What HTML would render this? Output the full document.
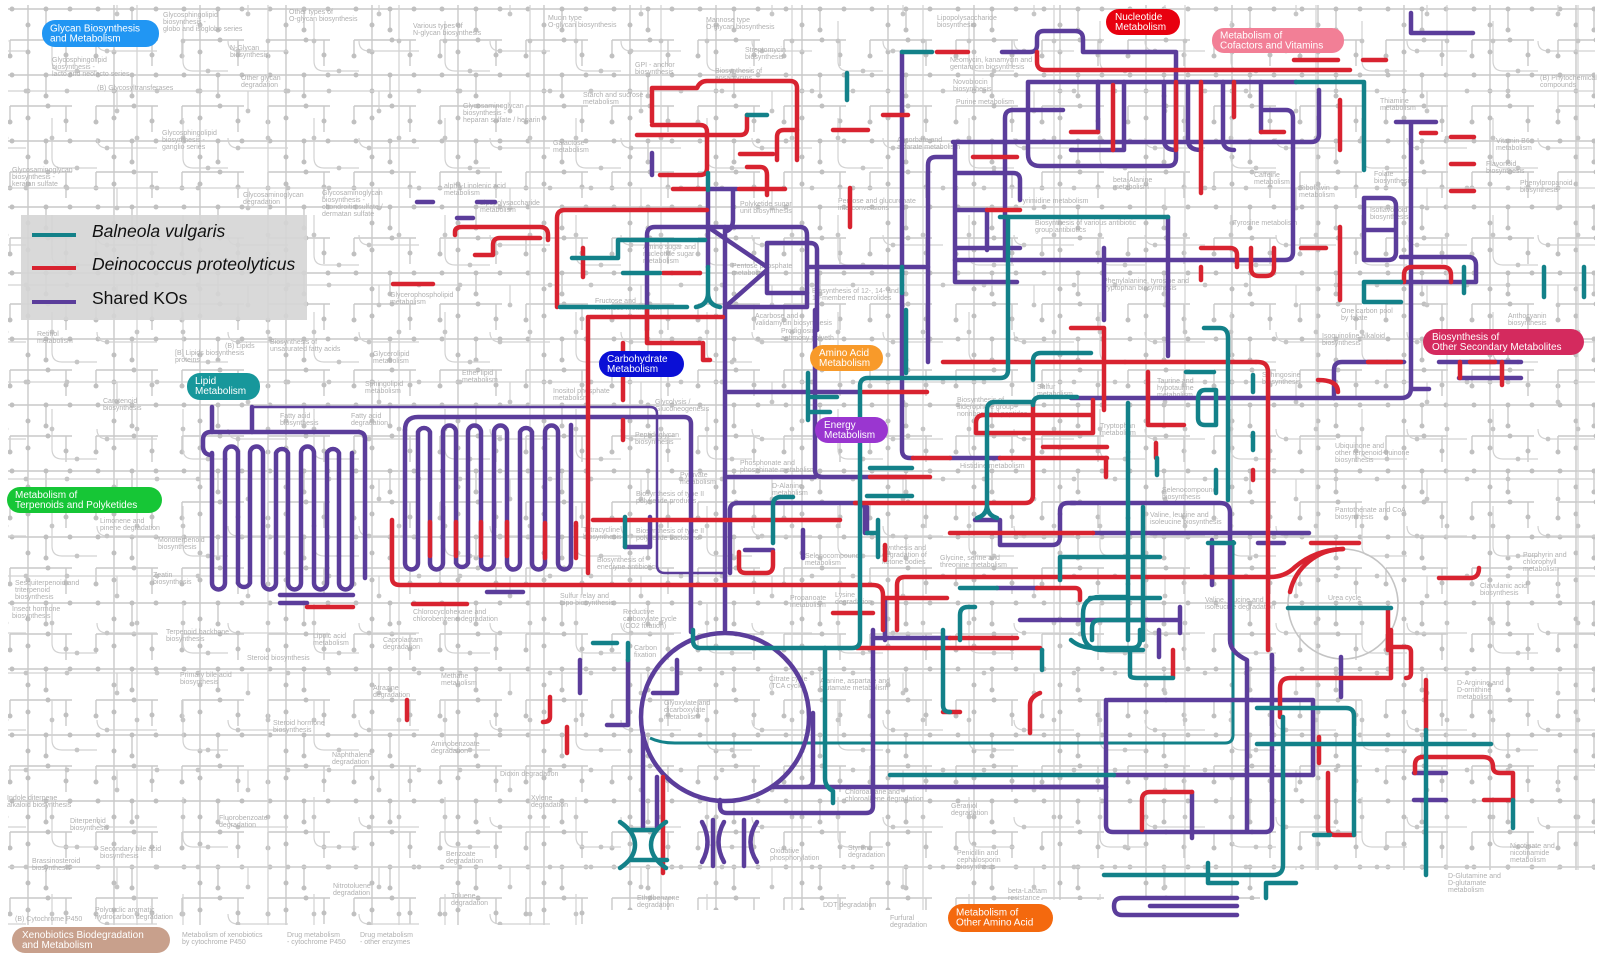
<!DOCTYPE html>
<html><head><meta charset="utf-8"><style>
html,body{margin:0;padding:0;background:#fff;}
svg{display:block;}
.c{fill:none;stroke-width:4.5;stroke-linecap:round;stroke-linejoin:round;}
.p{stroke:#5b3d9b;}
.r{stroke:#d82330;}
.t{stroke:#138189;}
.lbl{font-family:"Liberation Sans",sans-serif;font-size:7px;fill:#b0b0b0;}
.pl{font-family:"Liberation Sans",sans-serif;font-size:10px;fill:#fff;}
</style></head><body>
<svg width="1611" height="956" viewBox="0 0 1611 956" xmlns="http://www.w3.org/2000/svg">
<defs>
<pattern id="g1" width="86" height="66" patternUnits="userSpaceOnUse">
<g stroke="#c9c9c9" stroke-width="1.4" fill="none">
<path d="M0,9 H86 M28,0 V66 M46,9 V30 M10,40 H72 M66,40 V66 M10,40 V56"/>
</g>
<g fill="#c0c0c0">
<circle cx="12" cy="9" r="2.5"/><circle cx="46" cy="9" r="2.5"/><circle cx="70" cy="9" r="2.5"/>
<circle cx="28" cy="25" r="2.5"/><circle cx="46" cy="30" r="2.5"/><circle cx="28" cy="52" r="2.5"/>
<circle cx="10" cy="56" r="2.5"/><circle cx="48" cy="40" r="2.5"/><circle cx="66" cy="55" r="2.5"/>
</g>
</pattern>
<pattern id="g2" width="131" height="97" patternUnits="userSpaceOnUse" x="37" y="21">
<g stroke="#d2d2d2" stroke-width="1.2" fill="none">
<path d="M0,70 H131 M100,0 V97 M60,20 Q60,30 70,30 H120 M15,0 V40 Q15,50 25,50 H60 M80,70 V90"/>
</g>
<g fill="#c6c6c6">
<circle cx="100" cy="20" r="2.4"/><circle cx="70" cy="30" r="2.4"/><circle cx="15" cy="20" r="2.4"/>
<circle cx="40" cy="50" r="2.4"/><circle cx="30" cy="70" r="2.4"/><circle cx="80" cy="90" r="2.4"/><circle cx="120" cy="70" r="2.4"/>
</g>
</pattern>
<clipPath id="mapclip"><polygon points="8,5 1595,5 1595,870 1260,870 1260,900 1000,900 1000,910 600,910 600,925 8,925"/></clipPath>
</defs>

<g clip-path="url(#mapclip)">
<rect x="0" y="0" width="1611" height="956" fill="url(#g1)"/>
<rect x="0" y="0" width="1611" height="956" fill="url(#g2)"/>
</g>
<circle cx="1343" cy="604" r="55" fill="none" stroke="#c4c4c4" stroke-width="1.6"/>

<!-- gray labels -->
<g class="lbl">
<text x="163" y="17">Glycosphingolipid<tspan x="163" dy="7">biosynthesis -</tspan><tspan x="163" dy="7">globo and isoglobo series</tspan></text>
<text x="289" y="14">Other types of<tspan x="289" dy="7">O-glycan biosynthesis</tspan></text>
<text x="230" y="50">N-Glycan<tspan x="230" dy="7">biosynthesis</tspan></text>
<text x="52" y="62">Glycosphingolipid<tspan x="52" dy="7">biosynthesis -</tspan><tspan x="52" dy="7">lacto and neolacto series</tspan></text>
<text x="97" y="90">(B) Glycosyltransferases</text>
<text x="241" y="80">Other glycan<tspan x="241" dy="7">degradation</tspan></text>
<text x="162" y="135">Glycosphingolipid<tspan x="162" dy="7">biosynthesis -</tspan><tspan x="162" dy="7">ganglio series</tspan></text>
<text x="12" y="172">Glycosaminoglycan<tspan x="12" dy="7">biosynthesis -</tspan><tspan x="12" dy="7">keratan sulfate</tspan></text>
<text x="243" y="197">Glycosaminoglycan<tspan x="243" dy="7">degradation</tspan></text>
<text x="322" y="195">Glycosaminoglycan<tspan x="322" dy="7">biosynthesis -</tspan><tspan x="322" dy="7">chondroitin sulfate /</tspan><tspan x="322" dy="7">dermatan sulfate</tspan></text>
<text x="463" y="108">Glycosaminoglycan<tspan x="463" dy="7">biosynthesis -</tspan><tspan x="463" dy="7">heparan sulfate / heparin</tspan></text>
<text x="413" y="28">Various types of<tspan x="413" dy="7">N-glycan biosynthesis</tspan></text>
<text x="548" y="20">Mucin type<tspan x="548" dy="7">O-glycan biosynthesis</tspan></text>
<text x="706" y="22">Mannose type<tspan x="706" dy="7">O-glycan biosynthesis</tspan></text>
<text x="937" y="20">Lipopolysaccharide<tspan x="937" dy="7">biosynthesis</tspan></text>
<text x="635" y="67">GPI - anchor<tspan x="635" dy="7">biosynthesis</tspan></text>
<text x="583" y="97">Starch and sucrose<tspan x="583" dy="7">metabolism</tspan></text>
<text x="553" y="145">Galactose<tspan x="553" dy="7">metabolism</tspan></text>
<text x="444" y="188">alpha-Linolenic acid<tspan x="444" dy="7">metabolism</tspan></text>
<text x="390" y="297">Glycerophospholipid<tspan x="390" dy="7">metabolism</tspan></text>
<text x="950" y="62">Neomycin, kanamycin and<tspan x="950" dy="7">gentamicin biosynthesis</tspan></text>
<text x="953" y="84">Novobiocin<tspan x="953" dy="7">biosynthesis</tspan></text>
<text x="956" y="104">Purine metabolism</text>
<text x="897" y="142">Ascorbate and<tspan x="897" dy="7">aldarate metabolism</tspan></text>
<text x="1018" y="203">Pyrimidine metabolism</text>
<text x="1380" y="103">Thiamine<tspan x="1380" dy="7">metabolism</tspan></text>
<text x="1496" y="143">Vitamin B6<tspan x="1496" dy="7">metabolism</tspan></text>
<text x="1486" y="166">Flavonoid<tspan x="1486" dy="7">biosynthesis</tspan></text>
<text x="1520" y="185">Phenylpropanoid<tspan x="1520" dy="7">biosynthesis</tspan></text>
<text x="1254" y="177">Caffeine<tspan x="1254" dy="7">metabolism</tspan></text>
<text x="1299" y="190">Riboflavin<tspan x="1299" dy="7">metabolism</tspan></text>
<text x="1113" y="182">beta-Alanine<tspan x="1113" dy="7">metabolism</tspan></text>
<text x="1233" y="225">Tyrosine metabolism</text>
<text x="1374" y="176">Folate<tspan x="1374" dy="7">biosynthesis</tspan></text>
<text x="1370" y="212">Isoflavonoid<tspan x="1370" dy="7">biosynthesis</tspan></text>
<text x="1508" y="318">Anthocyanin<tspan x="1508" dy="7">biosynthesis</tspan></text>
<text x="1322" y="338">Isoquinoline alkaloid<tspan x="1322" dy="7">biosynthesis</tspan></text>
<text x="1341" y="313">One carbon pool<tspan x="1341" dy="7">by folate</tspan></text>
<text x="1103" y="283">Phenylalanine, tyrosine and<tspan x="1103" dy="7">tryptophan biosynthesis</tspan></text>
<text x="1035" y="225">Biosynthesis of various antibiotic<tspan x="1035" dy="7">group antibiotics</tspan></text>
<text x="1540" y="80">(B) Phytochemical<tspan x="1540" dy="7">compounds</tspan></text>
<text x="280" y="418">Fatty acid<tspan x="280" dy="7">biosynthesis</tspan></text>
<text x="351" y="418">Fatty acid<tspan x="351" dy="7">degradation</tspan></text>
<text x="37" y="336">Retinol<tspan x="37" dy="7">metabolism</tspan></text>
<text x="103" y="403">Carotenoid<tspan x="103" dy="7">biosynthesis</tspan></text>
<text x="175" y="355">[B] Lipids biosynthesis<tspan x="175" dy="7">proteins</tspan></text>
<text x="225" y="348">(B) Lipids</text>
<text x="270" y="344">Biosynthesis of<tspan x="270" dy="7">unsaturated fatty acids</tspan></text>
<text x="373" y="356">Glycerolipid<tspan x="373" dy="7">metabolism</tspan></text>
<text x="365" y="386">Sphingolipid<tspan x="365" dy="7">metabolism</tspan></text>
<text x="462" y="375">Ether lipid<tspan x="462" dy="7">metabolism</tspan></text>
<text x="100" y="523">Limonene and<tspan x="100" dy="7">pinene degradation</tspan></text>
<text x="158" y="542">Monoterpenoid<tspan x="158" dy="7">biosynthesis</tspan></text>
<text x="153" y="577">Zeatin<tspan x="153" dy="7">biosynthesis</tspan></text>
<text x="15" y="585">Sesquiterpenoid and<tspan x="15" dy="7">triterpenoid</tspan><tspan x="15" dy="7">biosynthesis</tspan></text>
<text x="12" y="611">Insect hormone<tspan x="12" dy="7">biosynthesis</tspan></text>
<text x="166" y="634">Terpenoid backbone<tspan x="166" dy="7">biosynthesis</tspan></text>
<text x="247" y="660">Steroid biosynthesis</text>
<text x="180" y="677">Primary bile acid<tspan x="180" dy="7">biosynthesis</tspan></text>
<text x="273" y="725">Steroid hormone<tspan x="273" dy="7">biosynthesis</tspan></text>
<text x="7" y="800">Indole diterpene<tspan x="7" dy="7">alkaloid biosynthesis</tspan></text>
<text x="70" y="823">Diterpenoid<tspan x="70" dy="7">biosynthesis</tspan></text>
<text x="32" y="863">Brassinosteroid<tspan x="32" dy="7">biosynthesis</tspan></text>
<text x="100" y="851">Secondary bile acid<tspan x="100" dy="7">biosynthesis</tspan></text>
<text x="95" y="912">Polycyclic aromatic<tspan x="95" dy="7">hydrocarbon degradation</tspan></text>
<text x="15" y="921">(B) Cytochrome P450</text>
<text x="182" y="937">Metabolism of xenobiotics<tspan x="182" dy="7">by cytochrome P450</tspan></text>
<text x="287" y="937">Drug metabolism<tspan x="287" dy="7">- cytochrome P450</tspan></text>
<text x="360" y="937">Drug metabolism<tspan x="360" dy="7">- other enzymes</tspan></text>
<text x="219" y="820">Fluorobenzoate<tspan x="219" dy="7">degradation</tspan></text>
<text x="332" y="757">Naphthalene<tspan x="332" dy="7">degradation</tspan></text>
<text x="431" y="746">Aminobenzoate<tspan x="431" dy="7">degradation</tspan></text>
<text x="373" y="690">Atrazine<tspan x="373" dy="7">degradation</tspan></text>
<text x="383" y="642">Caprolactam<tspan x="383" dy="7">degradation</tspan></text>
<text x="313" y="638">Lipoic acid<tspan x="313" dy="7">metabolism</tspan></text>
<text x="441" y="678">Methane<tspan x="441" dy="7">metabolism</tspan></text>
<text x="333" y="888">Nitrotoluene<tspan x="333" dy="7">degradation</tspan></text>
<text x="446" y="856">Benzoate<tspan x="446" dy="7">degradation</tspan></text>
<text x="451" y="898">Toluene<tspan x="451" dy="7">degradation</tspan></text>
<text x="531" y="800">Xylene<tspan x="531" dy="7">degradation</tspan></text>
<text x="500" y="776">Dioxin degradation</text>
<text x="413" y="614">Chlorocyclohexane and<tspan x="413" dy="7">chlorobenzene degradation</tspan></text>
<text x="637" y="900">Ethylbenzene<tspan x="637" dy="7">degradation</tspan></text>
<text x="770" y="853">Oxidative<tspan x="770" dy="7">phosphorylation</tspan></text>
<text x="848" y="850">Styrene<tspan x="848" dy="7">degradation</tspan></text>
<text x="823" y="907">DDT degradation</text>
<text x="890" y="920">Furfural<tspan x="890" dy="7">degradation</tspan></text>
<text x="664" y="705">Glyoxylate and<tspan x="664" dy="7">dicarboxylate</tspan><tspan x="664" dy="7">metabolism</tspan></text>
<text x="634" y="650">Carbon<tspan x="634" dy="7">fixation</tspan></text>
<text x="769" y="681">Citrate cycle<tspan x="769" dy="7">(TCA cycle)</tspan></text>
<text x="820" y="683">Alanine, aspartate and<tspan x="820" dy="7">glutamate metabolism</tspan></text>
<text x="845" y="794">Chloroalkane and<tspan x="845" dy="7">chloroalkene degradation</tspan></text>
<text x="957" y="855">Penicillin and<tspan x="957" dy="7">cephalosporin</tspan><tspan x="957" dy="7">biosynthesis</tspan></text>
<text x="1008" y="893">beta-Lactam<tspan x="1008" dy="7">resistance</tspan></text>
<text x="951" y="808">Geraniol<tspan x="951" dy="7">degradation</tspan></text>
<text x="1328" y="600">Urea cycle</text>
<text x="1523" y="557">Porphyrin and<tspan x="1523" dy="7">chlorophyll</tspan><tspan x="1523" dy="7">metabolism</tspan></text>
<text x="1480" y="588">Clavulanic acid<tspan x="1480" dy="7">biosynthesis</tspan></text>
<text x="1457" y="685">D-Arginine and<tspan x="1457" dy="7">D-ornithine</tspan><tspan x="1457" dy="7">metabolism</tspan></text>
<text x="1510" y="848">Nicotinate and<tspan x="1510" dy="7">nicotinamide</tspan><tspan x="1510" dy="7">metabolism</tspan></text>
<text x="1448" y="878">D-Glutamine and<tspan x="1448" dy="7">D-glutamate</tspan><tspan x="1448" dy="7">metabolism</tspan></text>
<text x="1335" y="512">Pantothenate and CoA<tspan x="1335" dy="7">biosynthesis</tspan></text>
<text x="1335" y="448">Ubiquinone and<tspan x="1335" dy="7">other terpenoid-quinone</tspan><tspan x="1335" dy="7">biosynthesis</tspan></text>
<text x="1162" y="492">Selenocompound<tspan x="1162" dy="7">biosynthesis</tspan></text>
<text x="1150" y="517">Valine, leucine and<tspan x="1150" dy="7">isoleucine biosynthesis</tspan></text>
<text x="1205" y="602">Valine, leucine and<tspan x="1205" dy="7">isoleucine degradation</tspan></text>
<text x="1157" y="383">Taurine and<tspan x="1157" dy="7">hypotaurine</tspan><tspan x="1157" dy="7">metabolism</tspan></text>
<text x="1262" y="377">Sphingosine<tspan x="1262" dy="7">biosynthesis</tspan></text>
<text x="1100" y="428">Tryptophan<tspan x="1100" dy="7">metabolism</tspan></text>
<text x="1037" y="389">Sulfur<tspan x="1037" dy="7">metabolism</tspan></text>
<text x="957" y="402">Biosynthesis of<tspan x="957" dy="7">siderophore group</tspan><tspan x="957" dy="7">nonribosomal peptides</tspan></text>
<text x="960" y="468">Histidine metabolism</text>
<text x="940" y="560">Glycine, serine and<tspan x="940" dy="7">threonine metabolism</tspan></text>
<text x="882" y="550">Synthesis and<tspan x="882" dy="7">degradation of</tspan><tspan x="882" dy="7">ketone bodies</tspan></text>
<text x="805" y="558">Selenocompound<tspan x="805" dy="7">metabolism</tspan></text>
<text x="790" y="600">Propanoate<tspan x="790" dy="7">metabolism</tspan></text>
<text x="835" y="597">Lysine<tspan x="835" dy="7">degradation</tspan></text>
<text x="772" y="488">D-Alanine<tspan x="772" dy="7">metabolism</tspan></text>
<text x="740" y="465">Phosphonate and<tspan x="740" dy="7">phosphinate metabolism</tspan></text>
<text x="680" y="477">Pyruvate<tspan x="680" dy="7">metabolism</tspan></text>
<text x="635" y="437">Peptidoglycan<tspan x="635" dy="7">biosynthesis</tspan></text>
<text x="636" y="496">Biosynthesis of type II<tspan x="636" dy="7">polyketide products</tspan></text>
<text x="636" y="533">Biosynthesis of type II<tspan x="636" dy="7">polyketide backbone</tspan></text>
<text x="597" y="562">Biosynthesis of<tspan x="597" dy="7">enediyne antibiotics</tspan></text>
<text x="583" y="532">Tetracycline<tspan x="583" dy="7">biosynthesis</tspan></text>
<text x="560" y="598">Sulfur relay and<tspan x="560" dy="7">Lipo biosynthesis</tspan></text>
<text x="623" y="614">Reductive<tspan x="623" dy="7">carboxylate cycle</tspan><tspan x="623" dy="7">(CO2 fixation)</tspan></text>
<text x="655" y="404">Glycolysis /<tspan x="655" dy="7">Gluconeogenesis</tspan></text>
<text x="553" y="393">Inositol phosphate<tspan x="553" dy="7">metabolism</tspan></text>
<text x="595" y="303">Fructose and<tspan x="595" dy="7">mannose metabolism</tspan></text>
<text x="643" y="249">Amino sugar and<tspan x="643" dy="7">nucleotide sugar</tspan><tspan x="643" dy="7">metabolism</tspan></text>
<text x="732" y="268">Pentose phosphate<tspan x="732" dy="7">metabolism</tspan></text>
<text x="812" y="293">Biosynthesis of 12-, 14- and<tspan x="812" dy="7">16-membered macrolides</tspan></text>
<text x="755" y="318">Acarbose and<tspan x="755" dy="7">validamycin biosynthesis</tspan></text>
<text x="781" y="333">Prodigiosin -<tspan x="781" dy="7">antimony polyeth</tspan></text>
<text x="740" y="206">Polyketide sugar<tspan x="740" dy="7">unit biosynthesis</tspan></text>
<text x="838" y="203">Pentose and glucuronate<tspan x="838" dy="7">interconversions</tspan></text>
<text x="745" y="52">Streptomycin<tspan x="745" dy="7">biosynthesis</tspan></text>
<text x="715" y="73">Biosynthesis of<tspan x="715" dy="7">ansamycins</tspan></text>
<text x="480" y="205">Lipopolysaccharide<tspan x="480" dy="7">metabolism</tspan></text>
</g>

<!-- legend -->
<rect x="21" y="215" width="286" height="105" fill="#d5d5d5" fill-opacity="0.9"/>
<line x1="32" y1="235" x2="76" y2="235" stroke="#138189" stroke-width="4"/>
<line x1="32" y1="268" x2="76" y2="268" stroke="#d82330" stroke-width="4"/>
<line x1="32" y1="302" x2="76" y2="302" stroke="#5b3d9b" stroke-width="4"/>
<text x="92" y="237" font-family="Liberation Sans, sans-serif" font-size="17.5" font-style="italic" fill="#111">Balneola vulgaris</text>
<text x="92" y="270" font-family="Liberation Sans, sans-serif" font-size="17.5" font-style="italic" fill="#111">Deinococcus proteolyticus</text>
<text x="92" y="304" font-family="Liberation Sans, sans-serif" font-size="17.5" fill="#111">Shared KOs</text>

<!-- thin lines -->
<path d="M252,407 H650 Q657,407 657,414 V565 Q657,573 665,573 H725" fill="none" stroke="#5b3d9b" stroke-width="2.5"/>
<path d="M650,738 Q660,743 675,743 H1225 Q1233,743 1233,735 V540" fill="none" stroke="#138189" stroke-width="3"/>

<!-- PURPLE -->
<g class="c p">
<path d="M1002,52 H1030 Q1037,52 1037,45 V38 Q1037,31 1044,31 H1075 Q1083,31 1083,39 V52 H1176 V158 Q1176,166 1168,166 H1040 Q1028,166 1028,154 V83"/>
<path d="M1028,82 H1296"/>
<path d="M1063,110 H1013 Q1005,110 1005,118 V260"/>
<path d="M953,142 H1311 Q1319,142 1319,134 V90"/>
<path d="M1098,82 V132 M1124,82 V150 H1071"/>
<path d="M1164,82 V140 Q1164,150 1176,150 M1188,82 V140 Q1188,150 1201,150 M1223,82 V140 Q1223,150 1234,150"/>
<path d="M1261,82 V132 M1261,110 H1286 Q1293,110 1293,118 V252 Q1293,260 1285,260 H955"/>
<path d="M902,52 V450 Q902,458 910,458 H913"/>
<path d="M928,362 V165 Q928,157 936,157 H953"/>
<path d="M955,145 V282 M955,173 H1013 Q1020,173 1020,180 V200 M955,210 H987 V250 M955,248 H1020 M955,282 H1017"/>
<path d="M647,330 V235 Q647,227 655,227 H800 Q807,227 807,235 V307 H725"/>
<path d="M708,227 L767,267 M725,307 L767,270 M767,243 V293 H807 M767,243 H810 Q817,243 817,250 V330 M810,267 H928"/>
<path d="M725,227 V630 M708,190 V267 M733,189 V220 Q733,228 727,231 M652,153 V175 M707,189 H737"/>
<path d="M212,407 V432 M252,407 V432"/>
<path d="M212,455 Q203,455 203,446 V440 Q203,432 211,432 H358 Q365,432 365,439 V578"/>
<path d="M212,453 V583 A6.5,6.5 0 0 0 225,583 V453 A6.5,6.5 0 0 1 238,453 V583 A6.5,6.5 0 0 0 250,583 V453 A6.5,6.5 0 0 1 263,453 V583 A6.5,6.5 0 0 0 276,583 V453 A6.5,6.5 0 0 1 288,453 V583 A6.5,6.5 0 0 0 301,583 V453 A6.5,6.5 0 0 1 314,453 V583 A6.5,6.5 0 0 0 327,583 V453 A6.5,6.5 0 0 1 339,453 V583 A6.5,6.5 0 0 0 352,583 V453"/>
<path d="M405,430 Q405,417 418,417 H684 Q691,417 691,424 V632"/>
<path d="M405,430 V563 A6.5,6.5 0 0 0 418,563 V432 A6.5,6.5 0 0 1 430,432 V563 A6.5,6.5 0 0 0 443,563 V432 A6.5,6.5 0 0 1 456,432 V563 A6.5,6.5 0 0 0 468,563 V432 A6.5,6.5 0 0 1 481,432 V563 A6.5,6.5 0 0 0 494,563 V432 A6.5,6.5 0 0 1 507,432 V563 A6.5,6.5 0 0 0 520,563 V432 A6.5,6.5 0 0 1 532,432 V563 A6.5,6.5 0 0 0 545,563 V432 A6.5,6.5 0 0 1 558,432 V563 A6.5,6.5 0 0 0 571,563 V425"/>
<path d="M280,595 H353 M280,603 H307 M487,592 H523"/>
<path d="M728,477 H815 M815,310 V470 Q815,477 823,477 H905"/>
<path d="M730,573 V510 Q730,503 738,503 H858 Q865,503 865,510 V533"/>
<path d="M728,392 H860 M803,530 V558 M745,550 H773"/>
<path d="M625,547 H650 V517"/>
<circle cx="725" cy="717" r="84"/>
<path d="M813,713 V780 Q813,787 806,787 H773 M773,787 H1106"/>
<path d="M720,800 V806 Q720,813 727,813 H866 Q873,813 873,806 V630"/>
<path d="M643,733 V827 M657,777 V827"/>
<path d="M702,822 Q713,842 702,862 M724,822 Q713,842 724,862 M713,820 V866 M757,822 Q744,842 757,862 M744,820 V866"/>
<path d="M677,660 V693 H653 M580,660 V693 M628,660 V725 H607"/>
<path d="M1108,700 H1313 V775 M1106,700 V825 Q1106,832 1113,832 H1265 Q1272,832 1272,825 V655"/>
<path d="M1114,775 H1313 M1040,787 H1106"/>
<path d="M1237,898 H1122 Q1114,898 1114,906 Q1114,915 1122,915 H1237 M1150,906 H1237"/>
<path d="M1439,362 H1521 M1459,378 H1521"/>
<path d="M1334,398 V370 Q1334,362 1342,362 H1404"/>
<path d="M1071,398 H1401 Q1411,398 1411,388 V122 M1396,122 H1436 M1411,389 H1429"/>
<path d="M1093,533 H1309 M1071,503 H1220 Q1230,503 1230,513 V640 Q1230,652 1247,660 V830"/>
<path d="M975,520 H1000 V545 H1052 Q1060,545 1060,537 V511 Q1060,503 1068,503 H1075"/>
<path d="M1168,217 V356 M1104,248 V320"/>
<path d="M1364,198 H1388 Q1396,198 1396,206 V252 Q1396,260 1388,260 H1364 Z M1364,230 H1396"/>
<path d="M1401,257 H1468 Q1476,257 1476,265 V282 M1401,282 H1476"/>
<path d="M1411,13 V33 H1473"/>
<path d="M867,507 V533"/>
<path d="M1020,620 H1180 M1180,607 V633 M873,638 H950"/>
<path d="M997,588 H1037 M885,600 V640"/>
<path d="M417,202 H433 M477,202 H495 M457,218 H473"/>
<path d="M1212,540 V585 M950,458 H1000 M1258,543 H1284"/>
<path d="M1159,630 V657 M1341,657 V697 M1414,773 H1446 M1414,800 H1446 M1192,792 V838"/>
</g>

<!-- RED -->
<g class="c r">
<path d="M1037,52 V62 Q1037,70 1045,70 H1350 M937,52 H968"/>
<path d="M652,122 V88 H697 Q700,81 707,81 H790 Q797,81 797,88 V160"/>
<path d="M637,135 H740 Q747,135 747,128 V115"/>
<path d="M652,125 H700 Q707,125 707,132 V168 Q707,175 700,175 H660"/>
<path d="M740,154 H773 M777,160 V137 Q777,130 784,130 H797"/>
<path d="M747,167 H760 Q767,167 767,175 V195 M673,189 H705 M739,189 H785"/>
<path d="M707,210 H565 Q557,210 557,218 V307"/>
<path d="M883,115 H908 M833,130 H868 M850,188 V227 M973,157 H1017 M987,210 H1020"/>
<path d="M455,235 V232 Q455,227 462,227 H540 Q548,227 548,235 V240"/>
<path d="M475,255 H493 V245 Q493,238 500,238 H540 M393,284 H433"/>
<path d="M590,317 H723 M588,317 V573"/>
<path d="M647,310 V343 H700 M703,343 V360 H710 M623,343 V400 M623,420 V440"/>
<path d="M863,392 H927 M593,520 H840"/>
<path d="M392,520 V578 Q392,585 400,585 H873 Q883,585 883,595 V630"/>
<path d="M430,522 V556 M456,522 V556 M481,522 V556 M507,522 V556 M545,523 V558 M576,523 V558"/>
<path d="M307,607 H353 M413,604 H467"/>
<path d="M943,362 H1258 Q1268,362 1268,372 V650"/>
<path d="M913,458 H950 M1000,458 H1107 M870,477 H930"/>
<path d="M855,503 H1025 Q1033,503 1033,495 V405"/>
<path d="M976,433 V423 Q976,415 984,415 H1093 M976,433 H1093 M1093,400 V433 M1043,447 H1107 M1106,458 V477"/>
<path d="M950,533 H1093"/>
<path d="M897,630 V585 Q897,577 905,577 H1270 Q1285,577 1295,567 Q1315,550 1343,549"/>
<path d="M1290,592 A55,55 0 0 1 1343,549"/>
<path d="M885,598 H947 M833,613 H873 M885,545 V560 M1037,588 H1075 Q1080,588 1080,593 V600"/>
<path d="M739,552 V567 Q739,573 746,573 H766 Q773,573 773,565 V552"/>
<path d="M1104,328 V410 M1071,328 H1104 M1148,372 V425 H1184 M1156,443 V458 M1253,470 V480"/>
<path d="M1311,543 H1359 M1318,380 Q1338,380 1338,392"/>
<path d="M1368,362 H1401 M1460,362 V378 M1502,362 V385 M1470,362 H1495"/>
<path d="M1439,578 H1470 Q1479,578 1479,568 M1388,608 V650"/>
<path d="M1280,717 V688 Q1280,678 1290,678 H1391 V630"/>
<path d="M1391,647 H1406 Q1411,647 1411,652 V673 Q1411,678 1406,678"/>
<path d="M1328,773 V828 Q1328,835 1335,835 H1354 M1426,680 V730"/>
<path d="M1415,773 V765 Q1415,757 1423,757 H1483 Q1493,757 1493,767 Q1493,773 1500,773 H1513 V800 H1484"/>
<path d="M1173,650 V677 M1142,830 V800 Q1142,792 1150,792 H1192 M1319,737 V763"/>
<path d="M857,648 H1040 M950,638 H1017 M943,712 H960 M1030,733 V705 Q1030,697 1040,693"/>
<path d="M550,697 V717 Q550,722 543,722 M567,727 V753 M663,777 V873 M407,700 V720"/>
<path d="M1294,60 H1338 M1363,60 H1386 M1340,100 V150 M1340,227 V300"/>
<path d="M1071,132 H1098 M1113,85 V150 M1176,82 V150 M1201,82 V193 M1234,82 V117 M1261,132 H1284"/>
<path d="M1201,248 H1230 Q1237,248 1237,255 V267 M1201,267 V280"/>
<path d="M1251,248 V268 Q1251,276 1259,276 H1266 Q1274,276 1274,268 V248 M1301,248 H1326"/>
<path d="M1421,133 H1436 M1451,137 H1474 M1451,164 H1474 M1451,191 H1474"/>
<path d="M1404,282 V275 Q1404,267 1412,267 H1443 Q1451,267 1451,275 V282"/>
<path d="M583,248 V277 M663,273 H700"/>
</g>

<!-- TEAL -->
<g class="c t">
<path d="M902,52 H932 M1296,82 H1364 V170 M902,267 V293 M906,310 V373"/>
<path d="M618,240 H705 M618,240 V258 H572 M623,273 H660 M560,307 H687"/>
<path d="M708,173 V190 M708,267 V293 M708,293 Q708,305 696,307 M708,293 Q708,305 720,307"/>
<path d="M747,115 H767 M847,73 V100"/>
<path d="M1000,217 H1168"/>
<path d="M1008,217 V370 Q1008,378 1000,378 H868 Q860,378 860,386 V640 Q860,648 852,648 H700 Q693,648 693,640 V630"/>
<path d="M825,648 V778 Q825,787 833,791 V803"/>
<path d="M808,373 V420 M810,397 H837 M810,412 H830 M870,468 H912 M867,496 H912"/>
<path d="M773,543 V505 Q773,497 781,497 H793 M878,520 V557 M867,533 H878"/>
<path d="M625,517 V547"/>
<path d="M987,510 V410 Q987,402 995,402 H1033 M987,505 Q987,515 977,518 M987,505 Q987,515 997,518"/>
<path d="M1033,405 Q1033,397 1041,397 H1077"/>
<path d="M1033,380 V361 Q1033,353 1041,353 H1091"/>
<path d="M960,640 V615 Q960,607 968,607 H975 M960,588 H997"/>
<path d="M1060,580 V557 H1160 M1090,598 H1160"/>
<path d="M1071,640 Q1080,648 1095,648 H1132 Q1140,648 1140,640 V630"/>
<path d="M1128,597 H1100 Q1083,597 1083,614 V630 Q1083,650 1103,650 H1143 M1143,620 H1100 Q1092,620 1092,628 V640"/>
<path d="M1204,328 H1220 Q1228,328 1228,338 V500 M1128,403 V640 M1143,507 V640 M1186,372 H1214"/>
<path d="M1216,390 H1205 Q1198,390 1198,400 V418 Q1198,425 1205,425 H1216 Z"/>
<path d="M1157,458 V475 M1253,375 V392 M1253,433 V450 M1216,470 V493 M1208,543 H1234"/>
<path d="M1288,608 H1391"/>
<path d="M1364,282 V302 H1401 M1364,282 H1401"/>
<path d="M1464,267 V293 M1544,267 V297 M1584,267 V297"/>
<path d="M1257,708 H1346 Q1354,708 1354,716 V835 M1314,835 H1330 M1257,744 H1491"/>
<path d="M1283,717 V865 Q1283,875 1273,875 H1104 M1426,730 V875 M1513,800 V828"/>
<path d="M1208,863 V883 H1237 M1266,883 H1296 M1266,883 V898 M1130,650 V675 Q1130,678 1137,678 H1173"/>
<path d="M1040,775 H1114 M890,775 H1063 M943,630 V705 Q943,712 950,712 M1042,650 V670"/>
<path d="M620,822 Q635,832 635,845 Q635,858 620,868 M666,822 Q651,832 651,845 Q651,858 666,868 M631,830 H655 M631,860 H667"/>
<path d="M593,643 H617 M628,643 V660"/>
</g>

<!-- category pills -->
<rect x="42" y="20" width="117" height="27" rx="13" fill="#2196f3"/>
<text class="pl" x="50" y="31.5">Glycan Biosynthesis<tspan x="50" dy="10">and Metabolism</tspan></text>
<rect x="1106" y="9" width="74" height="26" rx="13" fill="#e8000f"/>
<text class="pl" x="1115" y="20">Nucleotide<tspan x="1115" dy="10">Metabolism</tspan></text>
<rect x="1212" y="28" width="132" height="25" rx="12" fill="#f27f96"/>
<text class="pl" x="1220" y="38.5">Metabolism of<tspan x="1220" dy="10">Cofactors and Vitamins</tspan></text>
<rect x="187" y="373" width="73" height="27" rx="13" fill="#17979b"/>
<text class="pl" x="195" y="384">Lipid<tspan x="195" dy="10">Metabolism</tspan></text>
<rect x="7" y="487" width="155" height="26" rx="13" fill="#16c636"/>
<text class="pl" x="15" y="498">Metabolism of<tspan x="15" dy="10">Terpenoids and Polyketides</tspan></text>
<rect x="599" y="351" width="85" height="26" rx="13" fill="#0a0fd6"/>
<text class="pl" x="607" y="362">Carbohydrate<tspan x="607" dy="10">Metabolism</tspan></text>
<rect x="810" y="345" width="73" height="26" rx="13" fill="#f89a2a"/>
<text class="pl" x="819" y="356">Amino Acid<tspan x="819" dy="10">Metabolism</tspan></text>
<rect x="815" y="417" width="73" height="26" rx="13" fill="#9a36d0"/>
<text class="pl" x="824" y="428">Energy<tspan x="824" dy="10">Metabolism</tspan></text>
<rect x="1423" y="329" width="161" height="26" rx="13" fill="#d42a5e"/>
<text class="pl" x="1432" y="340">Biosynthesis of<tspan x="1432" dy="10">Other Secondary Metabolites</tspan></text>
<rect x="948" y="904" width="105" height="28" rx="14" fill="#f4690e"/>
<text class="pl" x="956" y="915.5">Metabolism of<tspan x="956" dy="10">Other Amino Acid</tspan></text>
<rect x="12" y="927" width="158" height="26" rx="13" fill="#c8a08c"/>
<text class="pl" x="22" y="938">Xenobiotics Biodegradation<tspan x="22" dy="10">and Metabolism</tspan></text>
</svg>
</body></html>
